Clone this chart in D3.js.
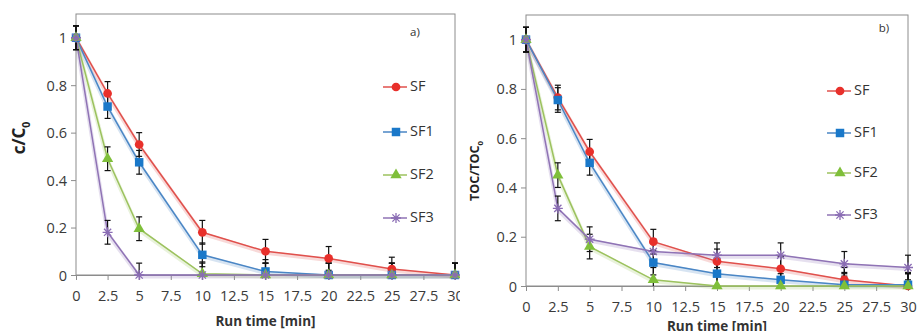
<!DOCTYPE html>
<html>
<head>
<meta charset="utf-8">
<script src="https://cdnjs.cloudflare.com/ajax/libs/d3/7.8.5/d3.min.js"></script>
<style>
  body { margin: 0; background: #fff; }
  svg { display: block; font-family: "Open Sans", "Liberation Sans", sans-serif; }
</style>
</head>
<body>
<svg id="chart" width="917" height="331"></svg>
<script>
'use strict';

// run time points [min]
const times = [0, 2.5, 5, 10, 15, 20, 25, 30];
const xTicks = [0, 2.5, 5, 7.5, 10, 12.5, 15, 17.5, 20, 22.5, 25, 27.5, 30];
const yTicks = [0, 0.2, 0.4, 0.6, 0.8, 1];
const seriesNames = ['SF', 'SF1', 'SF2', 'SF3'];

// panel a) c/C0
const cSF  = [1, 0.765, 0.55, 0.18, 0.10, 0.07, 0.025, 0];
const cSF1 = [1, 0.71, 0.475, 0.085, 0.015, 0, 0, 0];
const cSF2 = [1, 0.49, 0.195, 0.005, 0, 0, 0, 0];
const cSF3 = [1, 0.18, 0, 0, 0, 0, 0, 0];

// panel b) TOC/TOC0
const tocSF  = [1, 0.765, 0.545, 0.18, 0.10, 0.07, 0.025, 0];
const tocSF1 = [1, 0.755, 0.50, 0.095, 0.05, 0.025, 0.005, 0.005];
const tocSF2 = [1, 0.45, 0.16, 0.025, 0, 0, 0, 0];
const tocSF3 = [1, 0.315, 0.19, 0.14, 0.125, 0.125, 0.09, 0.075];

// error bar half-widths (same for every point)
const errA = [0.05, 0.05, 0.05, 0.05, 0.05, 0.05, 0.05, 0.05];
const errB = [0.05, 0.05, 0.05, 0.05, 0.05, 0.05, 0.05, 0.05];

const styles = {
  SF:  { line: '#e0504c', fill: '#e8302b', marker: 'circle' },
  SF1: { line: '#4a86c5', fill: '#1a78c9', marker: 'square' },
  SF2: { line: '#9cc25e', fill: '#7fbf3a', marker: 'triangle' },
  SF3: { line: '#8f73b5', fill: '#8a6cb4', marker: 'star' }
};

const svg = d3.select('#chart');

const panels = [
  {
    id: 'a', tag: 'a)', values: [cSF, cSF1, cSF2, cSF3], err: errA,
    left: 76, right: 455, top: 14, bottom: 275, clipRight: 460,
    tickY: 297, titleY: 326, yTitleX: 25, yTitleMain: 'c/C', yTitleY: 138, yTitleSize: 17,
    legX: 383, legY: [87, 132, 175, 218], tagX: 415, tagY: 33
  },
  {
    id: 'b', tag: 'b)', values: [tocSF, tocSF1, tocSF2, tocSF3], err: errB,
    left: 526, right: 908, top: 15, bottom: 286, clipRight: 917,
    tickY: 308, titleY: 331, yTitleX: 479, yTitleMain: 'TOC/TOC', yTitleY: 171, yTitleSize: 12.5,
    legX: 827, legY: [91, 133, 173, 215], tagX: 884, tagY: 29
  }
];

const markerPath = (type) => {
  switch (type) {
    case 'circle': return d3.symbol(d3.symbolCircle, 60)();
    case 'square': return d3.symbol(d3.symbolSquare, 72)();
    case 'triangle': return d3.symbol(d3.symbolTriangle, 55)();
    default: return 'M-5,0L5,0M0,-5L0,5M-3.6,-3.6L3.6,3.6M-3.6,3.6L3.6,-3.6';
  }
};

const drawMarker = (g, type, st) => {
  const p = g.append('path').attr('d', markerPath(type));
  if (type === 'star') {
    p.attr('fill', 'none').attr('stroke', st.fill).attr('stroke-width', 1.3);
  } else {
    p.attr('fill', st.fill).attr('stroke', 'none');
  }
};

panels.forEach(function(pn) {
  svg.append('clipPath').attr('id', 'clip-' + pn.id)
    .append('rect').attr('x', pn.left - 80).attr('y', 0)
    .attr('width', pn.clipRight - pn.left + 80).attr('height', 331);
  const root = svg.append('g').attr('clip-path', `url(#clip-${pn.id})`);

  const x = d3.scaleLinear().domain([0, 30]).range([pn.left, pn.right]);
  const y = d3.scaleLinear().domain([0, 1.1]).range([pn.bottom, pn.top]);

  // plot frame
  root.append('rect')
    .attr('x', pn.left).attr('y', pn.top)
    .attr('width', pn.right - pn.left).attr('height', pn.bottom - pn.top)
    .attr('fill', 'none').attr('stroke', '#8c8c8c').attr('stroke-width', 1);

  // x axis
  const xAxis = d3.axisBottom(x).tickValues(xTicks).tickSize(5)
    .tickFormat(d => String(d));
  const gx = root.append('g').attr('transform', `translate(0,${pn.bottom})`).call(xAxis);
  gx.select('.domain').attr('stroke', '#8c8c8c');
  gx.selectAll('.tick line').attr('stroke', '#8c8c8c');
  gx.selectAll('.tick text')
    .attr('y', 0).attr('dy', null)
    .attr('transform', `translate(0,${pn.tickY - pn.bottom})`)
    .attr('dominant-baseline', 'middle')
    .attr('font-size', 14.5).attr('font-family', '"Open Sans", sans-serif')
    .attr('fill', '#3a3a3a');

  // y axis
  const yAxis = d3.axisLeft(y).tickValues(yTicks).tickSize(5)
    .tickFormat(d => String(d));
  const gy = root.append('g').attr('transform', `translate(${pn.left},0)`).call(yAxis);
  gy.select('.domain').remove();
  gy.selectAll('.tick line').attr('stroke', '#8c8c8c');
  gy.selectAll('.tick text')
    .attr('x', -9).attr('dy', '0.35em')
    .attr('font-size', 14.5).attr('font-family', '"Open Sans", sans-serif')
    .attr('fill', '#3a3a3a');

  // axis titles
  root.append('text')
    .attr('x', (pn.left + pn.right) / 2).attr('y', pn.titleY)
    .attr('text-anchor', 'middle').attr('font-weight', 'bold')
    .attr('font-size', 13.5).attr('fill', '#333')
    .text('Run time [min]');

  const yt = root.append('text')
    .attr('transform', `translate(${pn.yTitleX},${pn.yTitleY}) rotate(-90)`)
    .attr('text-anchor', 'middle').attr('font-weight', 'bold')
    .attr('font-size', pn.yTitleSize).attr('fill', '#222');
  yt.append('tspan').text(pn.yTitleMain);
  yt.append('tspan').attr('font-size', pn.yTitleSize * 0.62).attr('dy', pn.yTitleSize * 0.28).text('0');

  // panel tag
  root.append('text')
    .attr('x', pn.tagX).attr('y', pn.tagY)
    .attr('text-anchor', 'middle').attr('dominant-baseline', 'middle')
    .attr('font-size', 11.5).attr('fill', '#333')
    .text(pn.tag);

  const plot = root.append('g');
  const line = d3.line().x((d, i) => x(times[i])).y(d => y(d));

  // lines with a soft shadow
  seriesNames.forEach(function(name, k) {
    const st = styles[name];
    plot.append('path').datum(pn.values[k])
      .attr('d', line).attr('fill', 'none')
      .attr('stroke', st.line).attr('stroke-opacity', 0.22).attr('stroke-width', 4)
      .attr('transform', 'translate(0,1.5)');
    plot.append('path').datum(pn.values[k])
      .attr('d', line).attr('fill', 'none')
      .attr('stroke', st.line).attr('stroke-width', 1.5);
  });

  // error bars, clipped to the plot area
  const errClipId = 'errclip-' + pn.id;
  svg.append('clipPath').attr('id', errClipId)
    .append('rect').attr('x', pn.left - 10).attr('y', pn.top)
    .attr('width', pn.right - pn.left + 20).attr('height', pn.bottom - pn.top);
  const eg = plot.append('g').attr('clip-path', `url(#${errClipId})`);
  seriesNames.forEach(function(name, k) {
    pn.values[k].forEach(function(v, i) {
      const cx = x(times[i]);
      const y1 = y(v + pn.err[i]);
      const y2 = y(v - pn.err[i]);
      eg.append('line').attr('x1', cx).attr('x2', cx).attr('y1', y1).attr('y2', y2)
        .attr('stroke', '#111').attr('stroke-width', 1.2);
      [y1, y2].forEach(function(yy) {
        eg.append('line').attr('x1', cx - 3).attr('x2', cx + 3).attr('y1', yy).attr('y2', yy)
          .attr('stroke', '#111').attr('stroke-width', 1.2);
      });
    });
  });

  // markers
  seriesNames.forEach(function(name, k) {
    const st = styles[name];
    pn.values[k].forEach(function(v, i) {
      const mg = plot.append('g').attr('transform', `translate(${x(times[i])},${y(v)})`);
      drawMarker(mg, st.marker, st);
    });
  });

  // legend
  seriesNames.forEach(function(name, k) {
    const st = styles[name];
    const ly = pn.legY[k];
    const lg = root.append('g');
    lg.append('line').attr('x1', pn.legX).attr('x2', pn.legX + 24)
      .attr('y1', ly).attr('y2', ly)
      .attr('stroke', st.line).attr('stroke-width', 1.5);
    drawMarker(lg.append('g').attr('transform', `translate(${pn.legX + 13},${ly})`), st.marker, st);
    lg.append('text').attr('x', pn.legX + 27).attr('y', ly)
      .attr('dominant-baseline', 'middle')
      .attr('font-size', 14.5).attr('fill', '#333')
      .text(name);
  });
});
</script>
</body>
</html>
